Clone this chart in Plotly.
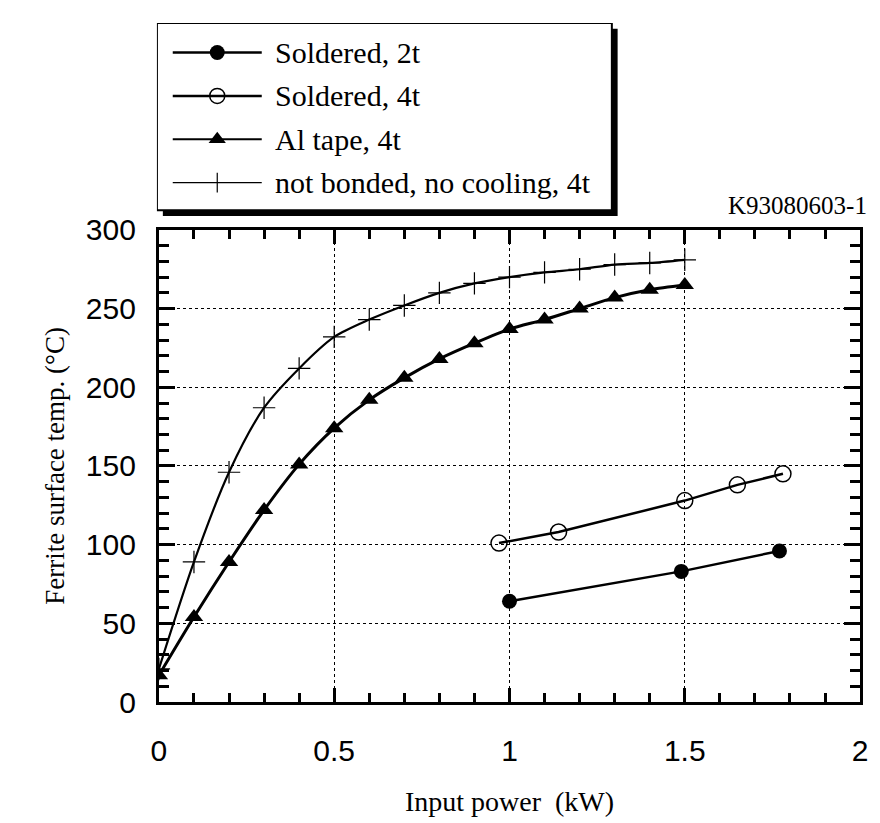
import plotly.graph_objects as go

# ---------------- data ----------------
notbonded_x = [0, 0.1, 0.2, 0.3, 0.4, 0.5, 0.6, 0.7, 0.8, 0.9, 1.0, 1.1, 1.2, 1.3, 1.4, 1.5]
notbonded_y = [21, 89, 146, 187, 212, 232, 243, 252, 260, 266, 270, 273, 275, 278, 279, 281]

altape_x = [0, 0.1, 0.2, 0.3, 0.4, 0.5, 0.6, 0.7, 0.8, 0.9, 1.0, 1.1, 1.2, 1.3, 1.4, 1.5]
altape_y = [17, 54, 89, 122, 151, 174, 192, 206, 218, 228, 237, 243, 250, 257, 262, 265]

sold4_x = [0.97, 1.14, 1.50, 1.65, 1.78]
sold4_y = [101, 108, 128, 138, 145]

sold2_x = [1.00, 1.49, 1.77]
sold2_y = [64, 83, 96]

legend_labels = ["Soldered, 2t", "Soldered, 4t", "Al tape, 4t", "not bonded, no cooling, 4t"]
x_ticks = [0, 0.5, 1, 1.5, 2]
x_ticktext = ["0", "0.5", "1", "1.5", "2"]
y_ticks = [0, 50, 100, 150, 200, 250, 300]
y_ticktext = ["0", "50", "100", "150", "200", "250", "300"]

SERIF = "Liberation Serif, Times New Roman, serif"
SANS = "Liberation Sans, Arial, sans-serif"

W, H = 880, 823
ML, MR, MT, MB = 150, 4, 10, 121
PW, PH = W - ML - MR, H - MT - MB

def px_x(p):
    return (p - ML) / PW

def px_y(p):
    return (H - MB - p) / PH

fig = go.Figure()

# ---------------- data traces ----------------
fig.add_trace(go.Scatter(x=notbonded_x, y=notbonded_y, mode="lines+markers",
                         line=dict(color="black", width=2.2, shape="spline", smoothing=0.8),
                         marker=dict(symbol="cross-thin", size=16, line=dict(color="black", width=1.2)),
                         showlegend=False))
fig.add_trace(go.Scatter(x=altape_x, y=altape_y, mode="lines+markers",
                         line=dict(color="black", width=3, shape="spline", smoothing=0.8),
                         marker=dict(symbol="triangle-up", size=16, color="black"),
                         showlegend=False))
fig.add_trace(go.Scatter(x=sold4_x, y=sold4_y, mode="lines+markers",
                         line=dict(color="black", width=2.5),
                         marker=dict(symbol="circle-open", size=16, color="black", line=dict(width=1.5)),
                         showlegend=False))
fig.add_trace(go.Scatter(x=sold2_x, y=sold2_y, mode="lines+markers",
                         line=dict(color="black", width=2.5),
                         marker=dict(symbol="circle", size=15, color="black"),
                         showlegend=False))

# ---------------- custom legend (auxiliary pixel axes) ----------------
LX0, LX1, LY0, LY1 = 157, 623, 13, 209
row_y = [43, 87, 131, 175]
line_x0, line_x1, mark_x, text_x = 173, 263, 218, 274
leg_styles = [
    dict(lw=2.5, marker=dict(symbol="circle", size=15, color="black")),
    dict(lw=2.5, marker=dict(symbol="circle-open", size=15, color="black", line=dict(width=1.5))),
    dict(lw=2, marker=dict(symbol="triangle-up", size=15, color="black")),
    dict(lw=1.3, marker=dict(symbol="line-ns", size=14, line=dict(color="black", width=1.2))),
]
for ry, st in zip(row_y, leg_styles):
    fig.add_trace(go.Scatter(x=[line_x0, line_x1], y=[ry, ry], mode="lines",
                             line=dict(color="black", width=st["lw"]),
                             xaxis="x2", yaxis="y2", showlegend=False, hoverinfo="skip"))
    fig.add_trace(go.Scatter(x=[mark_x], y=[ry], mode="markers", marker=st["marker"],
                             xaxis="x2", yaxis="y2", showlegend=False, hoverinfo="skip"))

annotations = []
for ry, lab in zip(row_y, legend_labels):
    annotations.append(dict(x=text_x, y=ry, xref="x2", yref="y2", text=lab, showarrow=False,
                            xanchor="left", yanchor="middle",
                            font=dict(family=SERIF, size=30, color="black")))

annotations.append(dict(x=px_x(877), y=px_y(198), xref="paper", yref="paper",
                        text="K93080603-1", showarrow=False, xanchor="right", yanchor="middle",
                        font=dict(family=SERIF, size=25, color="black")))

shapes = [
    # shadow
    dict(type="rect", xref="x2", yref="y2", x0=LX0 + 6, x1=LX1, y0=LY0 + 6, y1=LY1,
         fillcolor="black", line=dict(width=0), layer="below"),
    # box
    dict(type="rect", xref="x2", yref="y2", x0=LX0, x1=LX1 - 6, y0=LY0, y1=LY1 - 6,
         fillcolor="white", line=dict(color="black", width=2), layer="below"),
]

axis_common = dict(
    showline=True, linecolor="black", linewidth=3, mirror="ticks",
    ticks="inside", tickcolor="black", tickwidth=3,
    showgrid=True, gridcolor="black", gridwidth=1, griddash="dot",
    zeroline=False,
    tickfont=dict(family=SANS, size=30, color="black"),
)

fig.update_layout(
    width=W, height=H,
    margin=dict(l=ML, r=MR, t=MT, b=MB),
    paper_bgcolor="white", plot_bgcolor="white",
    showlegend=False,
    font=dict(color="black"),
    xaxis=dict(axis_common, domain=[px_x(159), px_x(868)], range=[0, 2],
               tickvals=x_ticks, ticktext=x_ticktext, ticklen=14,
               minor=dict(dtick=0.1, ticks="inside", ticklen=9, tickwidth=3, tickcolor="black", showgrid=False),
               ticklabelstandoff=20,
               title=dict(text="Input power  (kW)", standoff=26,
                          font=dict(family=SERIF, size=28, color="black"))),
    yaxis=dict(axis_common, domain=[0, px_y(223)], range=[0, 300],
               tickvals=y_ticks, ticktext=y_ticktext, ticklen=16,
               minor=dict(dtick=10, ticks="inside", ticklen=10, tickwidth=3, tickcolor="black", showgrid=False),
               ticklabelstandoff=14,
               title=dict(text="Ferrite surface temp. (°C)", standoff=14,
                          font=dict(family=SERIF, size=27, color="#000000"))),
    xaxis2=dict(domain=[px_x(LX0), px_x(LX1)], range=[LX0, LX1], anchor="y2",
                visible=False, fixedrange=True),
    yaxis2=dict(domain=[px_y(LY1), px_y(LY0)], range=[LY1, LY0], anchor="x2",
                visible=False, fixedrange=True),
    annotations=annotations,
    shapes=shapes,
)

fig.write_html("out.html")
